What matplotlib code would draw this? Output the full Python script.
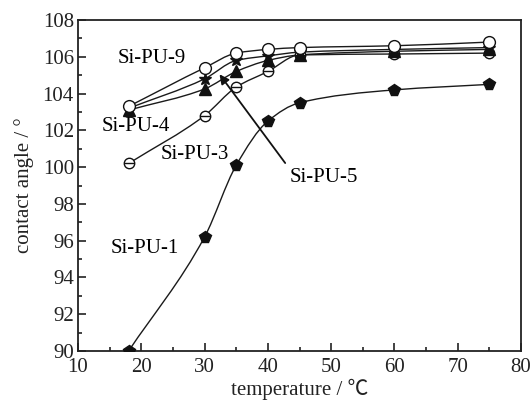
import numpy as np
import matplotlib
matplotlib.use('Agg')
import matplotlib.pyplot as plt
from matplotlib.path import Path
from matplotlib.patches import PathPatch
from matplotlib.ticker import MultipleLocator

plt.rcParams['font.family'] = ['Liberation Serif', 'Noto Sans CJK SC', 'DejaVu Sans']

# ----- DATA -----
temp = [18, 30, 35, 40, 45, 60, 75]
pu1 = [90.0, 96.2, 100.1, 102.5, 103.5, 104.2, 104.5]
pu3 = [100.2, 102.8, 104.35, 105.2, 106.1, 106.15, 106.2]
pu4 = [103.1, 104.25, 105.2, 105.8, 106.1, 106.3, 106.4]
pu5 = [103.2, 104.8, 105.8, 106.05, 106.25, 106.4, 106.5]
pu9 = [103.3, 105.4, 106.2, 106.4, 106.5, 106.6, 106.8]


def smooth_path(x, y):
    # monotone cubic (pchip-style slopes) through the points, as bezier segments
    x = np.asarray(x, float)
    y = np.asarray(y, float)
    h = np.diff(x)
    d = np.diff(y) / h
    m = np.zeros_like(y)
    m[0], m[-1] = d[0], d[-1]
    for i in range(1, len(x) - 1):
        if d[i - 1] * d[i] > 0:
            w1, w2 = 2 * h[i] + h[i - 1], h[i] + 2 * h[i - 1]
            m[i] = (w1 + w2) / (w1 / d[i - 1] + w2 / d[i])
    verts = [(x[0], y[0])]
    codes = [Path.MOVETO]
    for i in range(len(x) - 1):
        verts += [(x[i] + h[i] / 3, y[i] + m[i] * h[i] / 3),
                  (x[i + 1] - h[i] / 3, y[i + 1] - m[i + 1] * h[i] / 3),
                  (x[i + 1], y[i + 1])]
        codes += [Path.CURVE4] * 3
    return Path(verts, codes)


fig = plt.figure(figsize=(5.32, 4.03), dpi=100)
ax = fig.add_axes([78 / 532, 1 - 351 / 403, 443 / 532, 331 / 403])

for ys in [pu1, pu3, pu4, pu5, pu9]:
    ax.add_patch(PathPatch(smooth_path(temp, ys), fill=False, lw=1.0,
                           color='#1a1a1a', zorder=2))

ms = 8.5
ax.plot(temp, pu1, ls='none', marker='p', ms=ms, color='#111111', zorder=3)
ax.plot(temp, pu3, ls='none', marker='o', ms=ms - 1, mfc='white', mec='#111111',
        mew=1.0, zorder=3)
ax.plot(temp, pu3, ls='none', marker='_', ms=ms - 2, mec='#111111', mew=1.0, zorder=4)
ax.plot(temp, pu4, ls='none', marker='^', ms=ms, color='#111111', zorder=3)
ax.plot(temp, pu5, ls='none', marker='*', ms=ms + 1, color='#111111', zorder=4)
ax.plot(temp, pu9, ls='none', marker='o', ms=ms, mfc='white', mec='#111111',
        mew=1.0, zorder=5)

fs = 15
ax.text(16.3, 105.93, 'Si-PU-9', fontsize=fs, va='center', ha='left')
ax.text(13.8, 102.2, 'Si-PU-4', fontsize=fs, va='center', ha='left')
ax.text(23.0, 100.66, 'Si-PU-3', fontsize=fs, va='center', ha='left')
ax.text(15.1, 95.6, 'Si-PU-1', fontsize=fs, va='center', ha='left')
ax.text(43.5, 99.46, 'Si-PU-5', fontsize=fs, va='center', ha='left')
ax.annotate('', xy=(32.1, 105.17), xytext=(43.0, 100.1),
            arrowprops=dict(arrowstyle='-|>', color='#111111', lw=1.3,
                            mutation_scale=14))

ax.set_xlim(10, 80)
ax.set_ylim(90, 108)
ax.xaxis.set_major_locator(MultipleLocator(10))
ax.xaxis.set_minor_locator(MultipleLocator(5))
ax.yaxis.set_major_locator(MultipleLocator(2))
ax.yaxis.set_minor_locator(MultipleLocator(1))
ax.tick_params(which='both', direction='in', labelsize=fs, width=1.2,
               colors='#222222', labelcolor='#222222')
ax.tick_params(axis='x', pad=5)
ax.tick_params(axis='y', pad=3)
ax.tick_params(which='major', length=6)
ax.tick_params(which='minor', length=3)
for s in ax.spines.values():
    s.set_linewidth(1.3)
    s.set_color('#222222')

ax.set_xlabel('temperature / ℃', fontsize=fs, color='#222222', labelpad=1)
ax.set_ylabel('contact angle / °', fontsize=fs, color='#222222', labelpad=6)

fig.savefig('out.png', dpi=100)
